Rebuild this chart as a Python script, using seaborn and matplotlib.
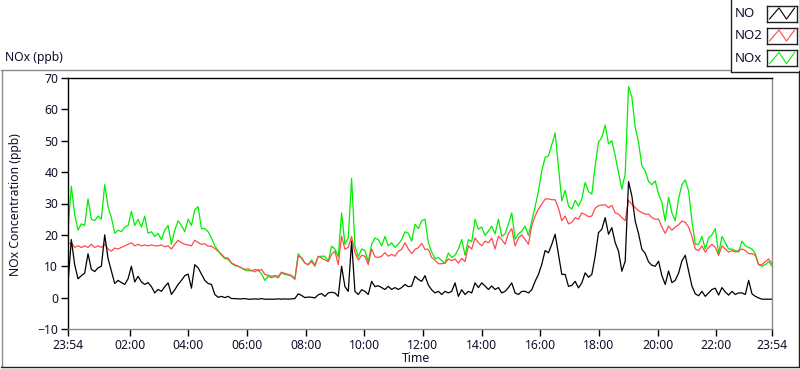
import numpy as np
import pandas as pd
import seaborn as sns
import matplotlib.pyplot as plt
from matplotlib.lines import Line2D

sns.set_style("white")
plt.rcParams['font.family'] = ['Noto Sans', 'DejaVu Sans']

# hours after midnight, one reading every ~6.8 min from 23:54 to 23:54
hours = np.linspace(-0.1, 23.9, 212)

nox = [
    22, 35.5, 26.5, 21.5, 23.5, 23, 31.5, 25, 24.5, 26, 25, 36, 29, 25.5, 20.5, 21.5, 21, 22.5,
    23, 27.5, 23, 25, 22.5, 26, 20.5, 21, 19.5, 20.5, 18.5, 21.5, 23, 17, 21.5, 24.5, 23, 21,
    25, 23, 28, 29, 22, 22, 21, 19, 16.5, 15, 13.5, 12.5, 12.2, 11, 10.2, 10, 9.5, 8.8,
    8.5, 8.7, 8.2, 9, 7.5, 5.5, 6.8, 6.3, 6.8, 6.3, 7.9, 7.4, 7.2, 6.8, 5.8, 14, 12.5, 11,
    10.5, 12, 10.5, 13, 13.2, 13.2, 11.5, 16.4, 15.5, 13, 27, 17, 19, 38, 16.5, 13, 15.5, 15,
    11.5, 17, 19, 18.5, 16.5, 19.5, 16.5, 17.5, 16, 17, 18.5, 21, 20.5, 18, 23.4, 22, 24.5, 25,
    17.5, 14.5, 12.5, 12.8, 11.8, 11, 14.2, 12.8, 13.5, 15.5, 18.5, 13.5, 18.5, 17.8, 25, 21.8, 22.5, 19.8,
    21.2, 22.8, 20.3, 25, 19.5, 20.3, 23.5, 27, 18.6, 20.3, 21.2, 22.8, 19.8, 24.4, 29, 34, 40.4, 44.7,
    45.2, 48.7, 52.5, 41.5, 30.8, 34.2, 29.2, 28.2, 31, 29.2, 31.4, 36.7, 33.8, 33, 42, 49.5, 51.1, 55,
    49, 50, 45.2, 39.9, 34.6, 39.4, 67.3, 63.9, 54.3, 49.5, 42, 40.4, 37, 36, 37.2, 33, 30.3, 24.4,
    32, 27, 24.5, 31.5, 36, 37.5, 34, 24.5, 17, 17, 19.5, 15.5, 19, 20, 22, 14,
    19.5, 17.5, 15.5, 15.5, 15, 14.5, 18, 16.5, 16, 15.5, 14, 10.5, 10, 10.5, 11.5, 10,
]

no2 = [
    17, 17.5, 16, 16.5, 16, 16.5, 16, 17, 16, 16.5, 16, 17, 15.5, 14.8, 15.8, 15.5, 16, 16.5,
    17, 17.5, 16.5, 17, 16.5, 16.8, 16.5, 16.8, 16.5, 16.5, 16.8, 16.2, 16.5, 15.5, 17, 18.3, 17.5, 17,
    16.8, 16.5, 18.3, 17.5, 17, 17.2, 16.4, 16.4, 15.6, 14.8, 13.8, 12.7, 12.6, 11, 10.5, 10, 9.5, 9,
    9.2, 8.5, 9, 8.5, 9, 7.4, 7.1, 6.8, 7, 6.8, 8.1, 7.7, 7.4, 7.1, 6, 13.2, 12.8, 11,
    10.5, 11.5, 10, 13.2, 12.6, 12, 11.5, 13.8, 14.8, 10.5, 19.6, 15.4, 16, 19.5, 14.3, 12, 13.5, 13.2,
    10.5, 15.5, 13, 12.8, 13.2, 14.3, 13.2, 13.8, 13.2, 14.8, 15.4, 17.5, 15.5, 14, 15.4, 15.9, 17.3, 15.4,
    15.4, 12.8, 12, 10.8, 10.8, 11, 12.3, 11.8, 12.3, 11, 12.5, 11.5, 16.5, 15.5, 19, 17.5, 16.5, 18,
    17.5, 19, 15.5, 19.6, 18.5, 17, 20.5, 22, 16.5, 19, 20, 18.5, 17, 23, 26, 28.2, 29.8, 31.4,
    31.5, 31.2, 31.2, 28.5, 24.5, 26, 23.5, 24, 25.5, 25, 27, 26.5, 25.8, 26, 28.5, 29.3, 29.5, 29.6,
    28.7, 29.4, 27, 26.6, 25.5, 24.5, 31, 29.8, 28.7, 27.7, 27.1, 26.6, 26.6, 25.5, 25, 25, 22.5, 20.5,
    22.8, 21.5, 22.5, 23.2, 24.4, 24, 22.5, 19.5, 15.5, 15, 16.5, 14.5, 16, 17, 16, 13.5,
    16.5, 15.5, 14.5, 15, 14.5, 15, 15.5, 15, 14, 14, 13.5, 10.5, 10.5, 11.5, 12.3, 10.8,
]

no = [
    4.7, 18.5, 10.5, 6, 7, 7.8, 14, 9, 8.3, 9.5, 10, 20, 12.5, 8.5, 4.5, 5.5, 4.8, 4.2,
    6, 10, 5, 6.8, 5, 4.2, 4.8, 3.5, 1.5, 2.6, 2, 3.5, 4.7, 1, 2.5, 4.2, 5.5, 7,
    7.5, 3, 10.5, 9.5, 7.5, 5.5, 4.5, 4.2, 1, 0.1, 0.4, 0, 0.4, -0.3, -0.3, -0.4, -0.4, -0.3,
    -0.5, -0.5, -0.4, -0.5, -0.3, -0.5, -0.5, -0.5, -0.5, -0.4, -0.5, -0.4, -0.5, -0.4, -0.3, 1.2, 0.7, 0,
    0.2, 0.1, -0.1, 0.9, 1.3, 0.4, 1.5, 1.7, 1.5, 0.4, 10, 3.5, 2, 18, 2, 1, 2.5, 2,
    1, 5.2, 3.5, 3.8, 3.2, 2.6, 3.6, 2.6, 3.2, 2.6, 3.2, 4.2, 3.5, 3.7, 6.8, 5.8, 5.2, 7,
    4, 2.5, 1.5, 2, 1, 2, 1.5, 2, 4.7, 0.4, 2.5, 1, 2, 1.5, 4.7, 3.2, 4.7, 3.7,
    2.6, 3.7, 2.6, 3.2, 1.5, 2, 3.2, 4.7, 1.5, 1, 2, 2, 1.5, 2.5, 5.2, 7.4, 10.6, 15,
    14.3, 17, 20.2, 13.8, 7.4, 7.4, 3.6, 3.9, 5.2, 3.1, 4.7, 7.9, 6.5, 7.4, 13.2, 20.7, 21.8, 25.5,
    20.2, 22.3, 17.5, 14.8, 8.4, 11.6, 37, 32.4, 24.4, 20.4, 15.4, 14.1, 11.4, 10.3, 10, 11.6, 7, 4.2,
    8.5, 4.8, 5.5, 7.8, 11.7, 13.5, 8.5, 3.7, 1.2, 0.6, 2, 0.4, 1.5, 2.6, 3, 0.8,
    3.2, 1.8, 0.8, 2, 1, 1.5, 1.5, 1, 5.5, 1.2, 0.4, -0.1, -0.5, -0.5, -0.5, -0.5,
]

series_names = ["NO", "NO2", "NOx"]
series_colors = {"NO": "#000000", "NO2": "#ff4a4a", "NOx": "#00ee00"}

major_hours = [-0.1, 2, 4, 6, 8, 10, 12, 14, 16, 18, 20, 22, 23.9]
major_labels = ["23:54", "02:00", "04:00", "06:00", "08:00", "10:00", "12:00",
                "14:00", "16:00", "18:00", "20:00", "22:00", "23:54"]
y_ticks = [-10, 0, 10, 20, 30, 40, 50, 60, 70]

df = pd.DataFrame({"hours": hours, "NO": no, "NO2": no2, "NOx": nox})

W, H = 800, 369
TXT = '#10102a'
FS = 8.8
fig = plt.figure(figsize=(W / 100, H / 100), dpi=100)
ax = fig.add_axes([68 / W, 1 - 329 / H, 704 / W, 251 / H])

for name in ["NOx", "NO2", "NO"]:
    sns.lineplot(data=df, x="hours", y=name, color=series_colors[name], lw=0.9,
                 ax=ax, estimator=None, legend=False)

ax.set_xlim(-0.1, 23.9)
ax.set_ylim(-10, 70)
ax.set_yticks(y_ticks)
ax.set_xticks(major_hours)
ax.set_xticklabels(major_labels)
minor = [m / 3 for m in range(0, 72) if m % 6 != 0]
ax.set_xticks([0] + minor, minor=True)
ax.tick_params(axis='both', which='major', direction='out', length=5, width=1,
               labelsize=FS, pad=2, color='black', labelcolor=TXT)
ax.tick_params(axis='x', which='minor', direction='out', length=3, width=1, color='black')
ax.tick_params(left=True, bottom=True)
ax.set_xlabel("")
ax.set_ylabel("")

for side in ['top', 'left']:
    ax.spines[side].set_color('black')
    ax.spines[side].set_linewidth(1)
for side in ['right', 'bottom']:
    ax.spines[side].set_color('#8a8a8a')
    ax.spines[side].set_linewidth(1)


def px(x, y):
    return x / W, 1 - y / H


def fig_line(x0, y0, x1, y1, color):
    (a, b), (c, d) = px(x0, y0), px(x1, y1)
    fig.add_artist(Line2D([a, c], [b, d], color=color, lw=1, transform=fig.transFigure))


# axis titles placed like the LabVIEW panel
fig.text(*px(416, 359), "Time", fontsize=FS, ha='center', va='center', color=TXT)
fig.text(*px(16, 205), "NOx Concentration (ppb)", fontsize=FS, rotation=90,
         ha='center', va='center', color=TXT)

# outer panel frame
fig_line(1, 69.5, 730, 69.5, '#8a8a8a')
fig_line(1.5, 69.5, 1.5, 367, '#8a8a8a')
fig_line(1, 367, 799, 367, '#202020')
fig_line(798.5, 71, 798.5, 367, '#202020')

fig.text(*px(5, 58), "NOx (ppb)", fontsize=FS, va='center', ha='left', color=TXT)

# legend panel
fig_line(730.5, 0, 730.5, 71.5, '#202020')
fig_line(730.5, 71.5, 799, 71.5, '#202020')
fig_line(799.5, 0, 799.5, 71.5, '#202020')
row_y = [13.5, 35.5, 58]
for name, yc in zip(series_names, row_y):
    fig.text(*px(735, yc), name, fontsize=9.5, va='center', ha='left', color=TXT)
    x0, y0 = px(767, yc + 8)
    sw = fig.add_axes([x0, y0, 30 / W, 16 / H])
    sw.plot([0.08, 0.4, 0.65, 0.92], [0.15, 0.85, 0.15, 0.85], color=series_colors[name], lw=0.8)
    sw.set_xlim(0, 1)
    sw.set_ylim(0, 1)
    sw.set_xticks([])
    sw.set_yticks([])
    for s in sw.spines.values():
        s.set_color('#202020')
        s.set_linewidth(1)

fig.savefig("out.png", dpi=100)
